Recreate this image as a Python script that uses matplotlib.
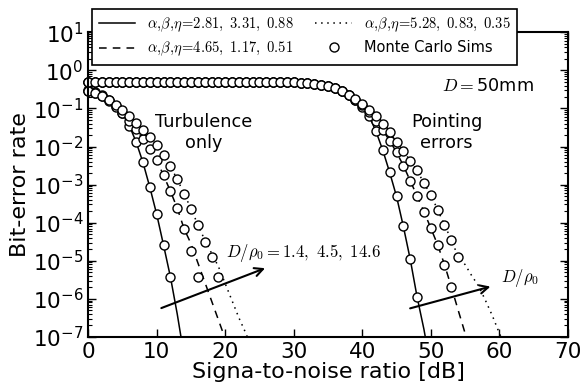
import numpy as np
import matplotlib
matplotlib.use("Agg")
import matplotlib.pyplot as plt
from matplotlib.ticker import LogLocator, NullFormatter, FixedLocator

plt.rcParams['mathtext.fontset'] = 'cm'
plt.rcParams['font.family'] = 'DejaVu Sans'
plt.rcParams['axes.unicode_minus'] = False

# SNR grid (dB) of the simulation points
snr_turb = np.arange(0, 25)
snr_point = np.arange(0, 62)

# turbulence only, log10(BER) -- lines (theory)
turb_solid = [-0.52, -0.57, -0.65, -0.77, -0.93, -1.13, -1.45, -1.88, -2.42, -3.07,
              -3.78, -4.59, -5.42, -6.40, -7.50]
turb_dashed = [-0.55, -0.60, -0.68, -0.80, -0.95, -1.12, -1.32, -1.55, -1.80, -2.07,
               -2.36, -2.76, -3.17, -3.62, -4.16, -4.55, -5.05, -5.55, -6.05, -6.55,
               -7.05]
turb_dotted = [-0.55, -0.60, -0.67, -0.77, -0.90, -1.05, -1.20, -1.38, -1.57, -1.75,
               -1.95, -2.23, -2.52, -2.86, -3.24, -3.63, -4.05, -4.45, -4.80, -5.15,
               -5.60, -6.05, -6.50, -6.90, -7.35]
# turbulence only, Monte Carlo points
mc_turb_solid = turb_solid[:13]
mc_turb_dashed = turb_dashed[:15] + [-4.75, -5.43]
mc_turb_dotted = turb_dotted[:17] + [-4.50, -4.91, -5.44]

# pointing errors, log10(BER)
plateau = [-0.30] * 30
point_solid = plateau + [-0.31, -0.32, -0.33, -0.35, -0.38, -0.42, -0.47, -0.55, -0.65,
                         -0.78, -0.95, -1.20, -1.60, -2.10, -2.68, -3.31, -4.10, -4.96,
                         -5.95, -6.80, -7.80]
point_dashed = plateau + [-0.31, -0.32, -0.33, -0.35, -0.38, -0.42, -0.47, -0.55, -0.66,
                          -0.78, -0.92, -1.10, -1.32, -1.57, -1.85, -2.15, -2.50, -2.90,
                          -3.30, -3.71, -4.14, -4.58, -5.10, -5.69, -6.30, -6.90, -7.50]
point_dotted = plateau + [-0.31, -0.32, -0.33, -0.35, -0.38, -0.42, -0.47, -0.55, -0.64,
                          -0.75, -0.88, -1.03, -1.20, -1.40, -1.62, -1.87, -2.12, -2.37,
                          -2.63, -2.96, -3.27, -3.66, -4.06, -4.45, -4.90, -5.10, -5.40,
                          -5.67, -6.05, -6.45, -6.90, -7.30]
mc_point_solid = point_solid[:49]
mc_point_dashed = point_dashed[:54]
mc_point_dotted = point_dotted[:55]

labels = [r'$\alpha,\!\beta,\!\eta\!=\!2.81,\ 3.31,\ 0.88$',
          r'$\alpha,\!\beta,\!\eta\!=\!4.65,\ 1.17,\ 0.51$',
          r'$\alpha,\!\beta,\!\eta\!=\!5.28,\ 0.83,\ 0.35$',
          'Monte Carlo Sims']

fig = plt.figure(figsize=(5.8, 3.89), dpi=100)
ax = fig.add_axes([0.152, 0.134, 0.827, 0.783])

styles = ['-', (0, (5, 4)), (0, (1, 3))]
lines_turb = [turb_solid, turb_dashed, turb_dotted]
lines_point = [point_solid, point_dashed, point_dotted]
mc_turb = [mc_turb_solid, mc_turb_dashed, mc_turb_dotted]
mc_point = [mc_point_solid, mc_point_dashed, mc_point_dotted]

handles = []
for i in range(3):
    h, = ax.plot(snr_turb[:len(lines_turb[i])], 10.0 ** np.array(lines_turb[i]),
                 color='k', lw=1.1, linestyle=styles[i])
    ax.plot(snr_point[:len(lines_point[i])], 10.0 ** np.array(lines_point[i]),
            color='k', lw=1.1, linestyle=styles[i])
    handles.append(h)
for i in range(3):
    mc, = ax.plot(snr_turb[:len(mc_turb[i])], 10.0 ** np.array(mc_turb[i]), 'o',
                  mfc='white', mec='k', ms=6.5, mew=1.0, clip_on=False)
    ax.plot(snr_point[:len(mc_point[i])], 10.0 ** np.array(mc_point[i]), 'o',
            mfc='white', mec='k', ms=6.5, mew=1.0, clip_on=False)
handles.append(mc)

ax.set_yscale('log')
ax.set_xlim(0, 70)
ax.set_ylim(1e-7, 1e1)
ax.xaxis.set_major_locator(FixedLocator([0, 10, 20, 30, 40, 50, 60, 70]))
ax.yaxis.set_major_locator(LogLocator(base=10, numticks=20))
ax.yaxis.set_minor_locator(LogLocator(base=10, subs=np.arange(2, 10), numticks=20))
ax.yaxis.set_minor_formatter(NullFormatter())
ax.tick_params(which='both', direction='in', right=True, top=True, labelsize=15.5)
ax.tick_params(which='major', length=6, width=1)
ax.tick_params(which='minor', length=3, width=0.8)
for s in ax.spines.values():
    s.set_linewidth(1.5)

ax.set_xlabel('Signa-to-noise ratio [dB]', fontsize=16, labelpad=0)
ax.set_ylabel('Bit-error rate', fontsize=16, labelpad=2)

ax.text(16.9, 10 ** -1.63, 'Turbulence\nonly', fontsize=12.7, ha='center', va='center')
ax.text(52.3, 10 ** -1.63, 'Pointing\nerrors', fontsize=12.7, ha='center', va='center')
ax.text(65, 10 ** -0.4, r'$D=$50mm', fontsize=12.7, ha='right', va='center')
ax.text(20.1, 10 ** -4.8, r'$D/\rho_0 = 1.4,\ 4.5,\ 14.6$', fontsize=12, ha='left', va='center')
ax.text(60.3, 10 ** -5.45, r'$D/\rho_0$', fontsize=12, ha='left', va='center')

ax.annotate('', xy=(26.2, 10 ** -5.17), xytext=(10.3, 10 ** -6.27),
            arrowprops=dict(arrowstyle='->', lw=1.5, color='k', mutation_scale=15))
ax.annotate('', xy=(59.1, 10 ** -5.66), xytext=(46.6, 10 ** -6.27),
            arrowprops=dict(arrowstyle='->', lw=1.5, color='k', mutation_scale=15))

leg = fig.legend(handles, labels, ncol=2, loc='upper center',
                 bbox_to_anchor=(0.525, 0.995), fontsize=10.5, frameon=True,
                 fancybox=False, framealpha=1, edgecolor='k',
                 handlelength=2.5, columnspacing=1.5, borderpad=0.45, labelspacing=0.4)
leg.get_frame().set_linewidth(1.2)

fig.savefig('out.png', dpi=100)
